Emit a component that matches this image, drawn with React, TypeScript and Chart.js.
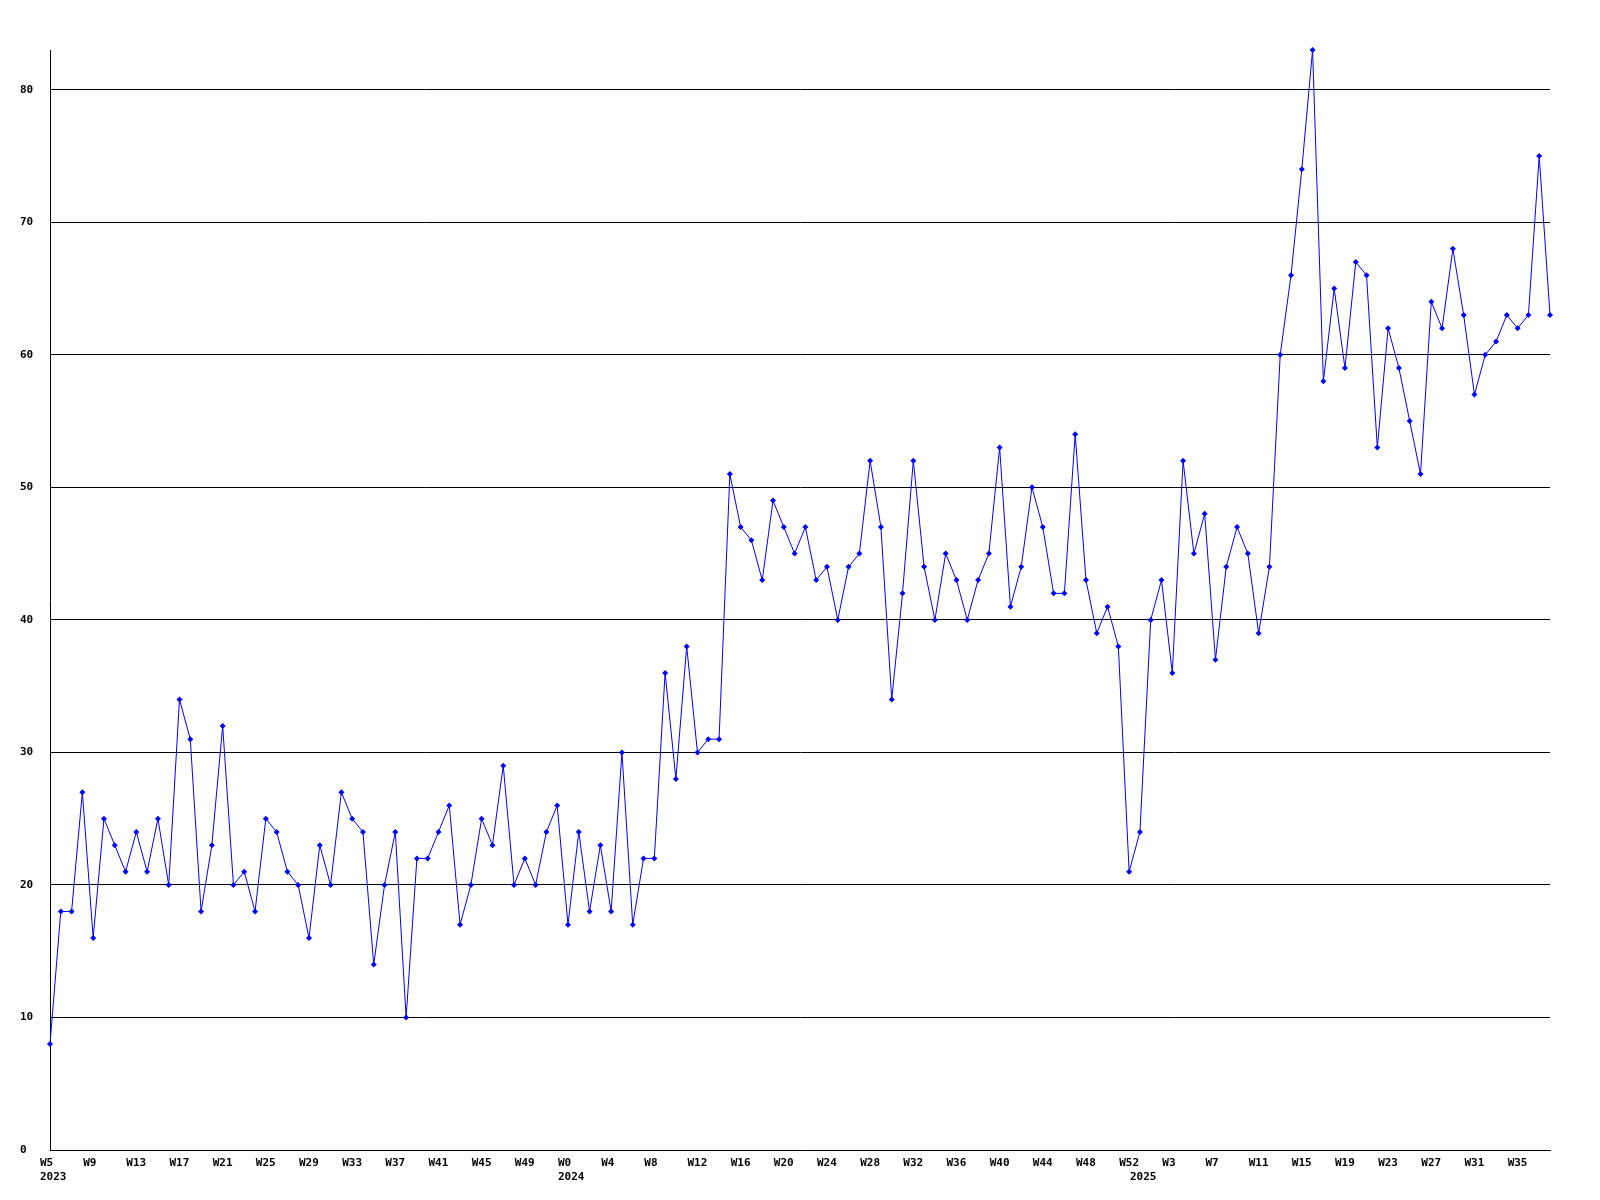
import React, { useEffect, useRef } from 'react';
import { Chart, registerables } from 'chart.js';

Chart.register(...registerables);

// Week numbers (categories) per year
const weeks2023 = [5, 6, 7, 8, 9, 10, 11, 12, 13, 14, 15, 16, 17, 18, 19, 20, 21, 22, 23, 24, 25, 26, 27, 28, 29, 30, 31, 32, 33, 34, 35, 36, 37, 38, 39, 40, 41, 42, 43, 44, 45, 46, 47, 48, 49, 50, 51, 52];
const weeks2024 = [0, 1, 2, 3, 4, 5, 6, 7, 8, 9, 10, 11, 12, 13, 14, 15, 16, 17, 18, 19, 20, 21, 22, 23, 24, 25, 26, 27, 28, 29, 30, 31, 32, 33, 34, 35, 36, 37, 38, 39, 40, 41, 42, 43, 44, 45, 46, 47, 48, 49, 50, 51, 52];
const weeks2025 = [0, 1, 2, 3, 4, 5, 6, 7, 8, 9, 10, 11, 12, 13, 14, 15, 16, 17, 18, 19, 20, 21, 22, 23, 24, 25, 26, 27, 28, 29, 30, 31, 32, 33, 34, 35, 36, 37, 38];

// Series values per year
const values2023 = [8, 18, 18, 27, 16, 25, 23, 21, 24, 21, 25, 20, 34, 31, 18, 23, 32, 20, 21, 18, 25, 24, 21, 20, 16, 23, 20, 27, 25, 24, 14, 20, 24, 10, 22, 22, 24, 26, 17, 20, 25, 23, 29, 20, 22, 20, 24, 26];
const values2024 = [17, 24, 18, 23, 18, 30, 17, 22, 22, 36, 28, 38, 30, 31, 31, 51, 47, 46, 43, 49, 47, 45, 47, 43, 44, 40, 44, 45, 52, 47, 34, 42, 52, 44, 40, 45, 43, 40, 43, 45, 53, 41, 44, 50, 47, 42, 42, 54, 43, 39, 41, 38, 21];
const values2025 = [24, 40, 43, 36, 52, 45, 48, 37, 44, 47, 45, 39, 44, 60, 66, 74, 83, 58, 65, 59, 67, 66, 53, 62, 59, 55, 51, 64, 62, 68, 63, 57, 60, 61, 63, 62, 63, 75, 63];

const yearLabels = ['2023', '2024', '2025'];
const labelEvery = 4;
const yMax = 83;
const yStep = 10;

export default function App() {
  const canvasRef = useRef<HTMLCanvasElement | null>(null);

  useEffect(() => {
    const canvas = canvasRef.current;
    if (!canvas) return;

    const weekLabels = [...weeks2023, ...weeks2024, ...weeks2025].map((w) => 'W' + w);
    const values = [...values2023, ...values2024, ...values2025];
    const yearStartIndex = [0, weeks2023.length, weeks2023.length + weeks2024.length];

    const font = {
      family: '"DejaVu Sans Mono", "Liberation Mono", monospace',
      size: 11,
      weight: 'bold' as const,
      lineHeight: 1.27,
    };

    const chart = new Chart(canvas, {
      type: 'line',
      data: {
        labels: weekLabels,
        datasets: [
          {
            data: values,
            borderColor: '#0000ff',
            backgroundColor: '#0000ff',
            borderWidth: 1,
            tension: 0,
            pointStyle: 'rectRot',
            pointRadius: 3,
            pointBorderWidth: 0,
            pointBackgroundColor: '#0000ff',
            clip: false as any,
          },
        ],
      },
      options: {
        animation: false,
        responsive: false,
        maintainAspectRatio: false,
        layout: { padding: { left: 20, top: 50, right: 50, bottom: 0 } },
        plugins: {
          legend: { display: false },
          tooltip: { enabled: false },
          title: { display: false },
        },
        scales: {
          x: {
            type: 'category',
            offset: false,
            grid: { display: false, drawTicks: false },
            border: { display: true, color: '#000000', width: 1 },
            ticks: {
              autoSkip: false,
              maxRotation: 0,
              minRotation: 0,
              padding: 6,
              align: 'start',
              labelOffset: -10,
              color: '#000000',
              font,
              callback: (_value: any, index: number) => {
                const w = index % labelEvery === 0 ? weekLabels[index] : '';
                const y = yearStartIndex.indexOf(index);
                if (y >= 0) return [w, yearLabels[y]];
                return w;
              },
            },
            afterFit: (scale: any) => {
              scale.height = 50;
            },
          },
          y: {
            type: 'linear',
            min: 0,
            max: yMax,
            grid: { display: true, color: '#000000', lineWidth: 1, drawTicks: false },
            border: { display: true, color: '#000000', width: 1 },
            ticks: {
              stepSize: yStep,
              crossAlign: 'far',
              padding: 0,
              color: '#000000',
              font,
            },
            afterBuildTicks: (scale: any) => {
              scale.ticks = scale.ticks.filter((t: any) => t.value % yStep === 0);
            },
            afterFit: (scale: any) => {
              scale.width = 30;
            },
          },
        },
      },
    });

    return () => {
      chart.destroy();
    };
  }, []);

  return (
    <div style={{ position: 'absolute', left: 0, top: 0, width: 1600, height: 1200, background: '#ffffff' }}>
      <canvas ref={canvasRef} width={1600} height={1200} style={{ display: 'block', width: 1600, height: 1200 }} />
    </div>
  );
}
